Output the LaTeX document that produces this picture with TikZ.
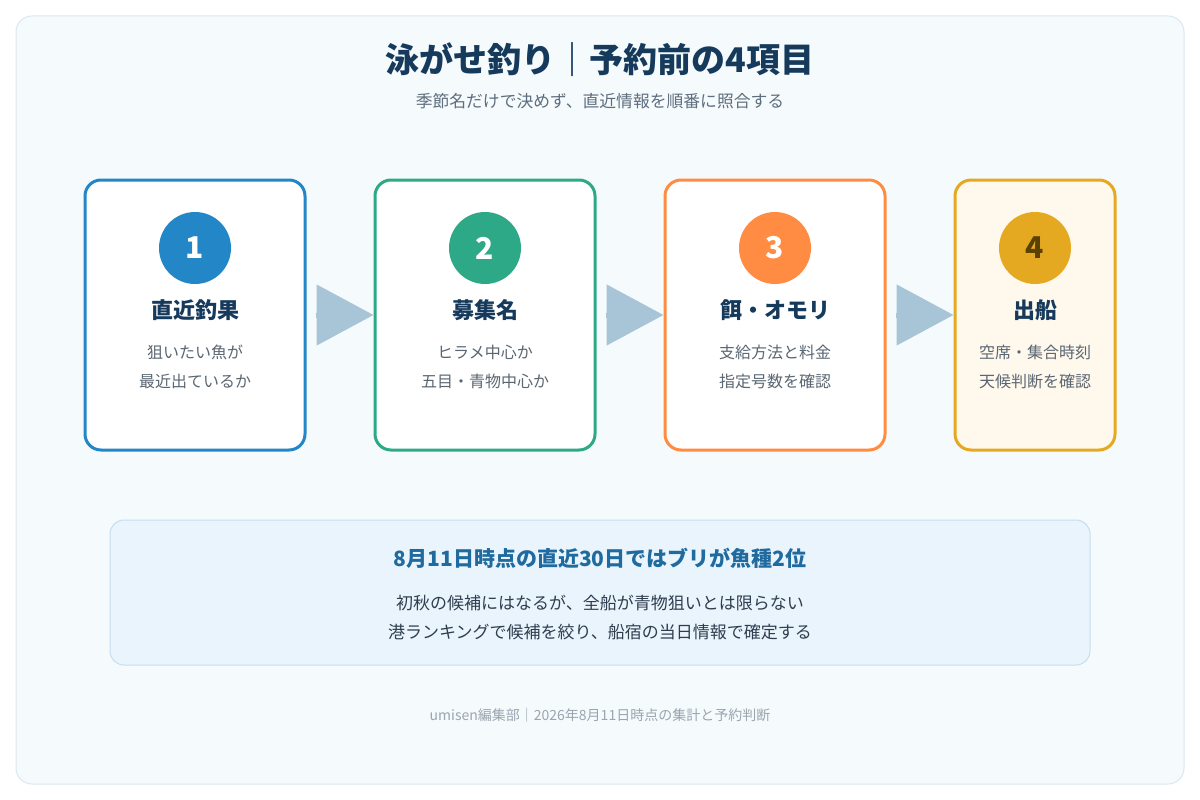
\documentclass[tikz,border=0pt]{standalone}
\usepackage{fontspec}
\setmainfont{Noto Sans CJK JP}
\usetikzlibrary{arrows.meta}
\definecolor{panelfill}{HTML}{F5FAFC}
\definecolor{panelline}{HTML}{DCE7EE}
\definecolor{navy}{HTML}{163A5C}
\definecolor{subgray}{HTML}{5E6E7E}
\definecolor{descgray}{HTML}{5A6672}
\definecolor{cblue}{HTML}{2386C6}
\definecolor{cgreen}{HTML}{2EA987}
\definecolor{corange}{HTML}{FF8C42}
\definecolor{cgold}{HTML}{E5A921}
\definecolor{goldfill}{HTML}{FFF8EC}
\definecolor{fourtext}{HTML}{5A4100}
\definecolor{arrowc}{HTML}{A8C5D7}
\definecolor{notefill}{HTML}{EAF4FD}
\definecolor{noteline}{HTML}{C5DDF0}
\definecolor{noteblue}{HTML}{1F6A9E}
\definecolor{notetext}{HTML}{2F3E4E}
\definecolor{footgray}{HTML}{9AA5AF}
\tikzset{
  stepbox/.style={draw, line width=3pt, rounded corners=16pt, fill=white, minimum height=270pt, inner sep=0pt},
  numcirc/.style={circle, minimum size=72pt, inner sep=0pt, text=white, font=\fontsize{30}{30}\selectfont\bfseries},
  heading/.style={text=navy, font=\fontsize{22}{22}\selectfont\bfseries},
  desc/.style={text=descgray, align=center, font=\fontsize{16}{29}\selectfont},
  flow/.style={draw=arrowc, line width=5pt, shorten <=9pt, -{Triangle[length=57pt,width=60pt]}, arrowc},
}
\begin{document}
\begin{tikzpicture}[x=1pt,y=-1pt]
\useasboundingbox (0,0) rectangle (1200,800);
\fill[white] (0,0) rectangle (1200,800);
\draw[panelline, fill=panelfill, line width=1pt, rounded corners=16pt] (16,16) rectangle (1184,784);

\node[text=navy, font=\fontsize{34}{34}\selectfont\bfseries] (title) at (600,60) {泳がせ釣り｜予約前の4項目};
\node[text=subgray, font=\fontsize{16.8}{16.8}\selectfont] (subtitle) at (600,101) {季節名だけで決めず、直近情報を順番に照合する};

\node[stepbox, draw=cblue, minimum width=220pt] (b1) at (195,315) {};
\node[stepbox, draw=cgreen, minimum width=220pt] (b2) at (485,315) {};
\node[stepbox, draw=corange, minimum width=220pt] (b3) at (775,315) {};
\node[stepbox, draw=cgold, fill=goldfill, minimum width=160pt] (b4) at (1035,315) {};

\node[numcirc, fill=cblue] (n1) at (195,248) {1};
\node[numcirc, fill=cgreen] (n2) at (485,248) {2};
\node[numcirc, fill=corange] (n3) at (775,248) {3};
\node[numcirc, fill=cgold, text=fourtext] (n4) at (1035,248) {4};

\node[heading] (h1) at (195,310) {直近釣果};
\node[heading] (h2) at (485,310) {募集名};
\node[heading] (h3) at (775,310) {餌・オモリ};
\node[heading] (h4) at (1035,310) {出船};

\node[desc] (d1) at (195,367) {狙いたい魚が\\最近出ているか};
\node[desc] (d2) at (485,367) {ヒラメ中心か\\五目・青物中心か};
\node[desc] (d3) at (775,367) {支給方法と料金\\指定号数を確認};
\node[desc] (d4) at (1035,367) {空席・集合時刻\\天候判断を確認};

\draw[flow] (b1.east) -- (b2.west);
\draw[flow] (b2.east) -- (b3.west);
\draw[flow] (b3.east) -- (b4.west);

\node[draw=noteline, fill=notefill, line width=1pt, rounded corners=14pt, minimum width=980pt, minimum height=145pt, inner sep=0pt] (note) at (600,592.5) {};
\node[text=noteblue, font=\fontsize{21}{21}\selectfont\bfseries] (notehead) at (600,558) {8月11日時点の直近30日ではブリが魚種2位};
\node[text=notetext, align=center, font=\fontsize{17}{29}\selectfont] (notebody) at (600,617.5) {初秋の候補にはなるが、全船が青物狙いとは限らない\\港ランキングで候補を絞り、船宿の当日情報で確定する};

\node[text=footgray, font=\fontsize{14}{14}\selectfont] (footer) at (600,715) {umisen編集部｜2026年8月11日時点の集計と予約判断};
\end{tikzpicture}
\end{document}
